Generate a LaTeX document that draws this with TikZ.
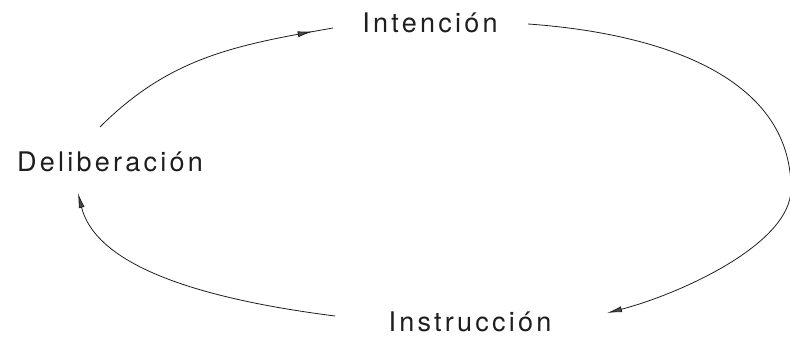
\documentclass[tikz,border=0pt]{standalone}
\usepackage{fontspec}
\setmainfont{TeX Gyre Heros}[LetterSpace=12]
\usetikzlibrary{arrows.meta,calc,decorations.markings}
\definecolor{CycleInk}{HTML}{1E1E1E}
\definecolor{CycleHead}{HTML}{4A4A4A}
\tikzset{
  stage/.style={font=\fontsize{27}{32}\selectfont, text=CycleInk, inner sep=3pt},
  cyclearc/.style={line width=0.8pt, draw=CycleInk},
  endarrow/.style={-{Latex[length=15pt,width=6pt,fill=CycleHead]}},
  midarrow/.style={postaction={decorate}, decoration={markings,
                   mark=at position 0.92 with {\arrow{Latex[length=15pt,width=6pt,fill=CycleHead]}}}},
}
\begin{document}
\begin{tikzpicture}[x=1pt,y=1pt]
  \useasboundingbox (0,0) rectangle (790,339);

  % the three stages
  \node[stage, anchor=base] (intent) at (430,306) {Intención};
  \node[stage, anchor=base] (delib)  at (110,167) {Deliberación};
  \node[stage, anchor=base] (instr)  at (470,7)   {Instrucción};

  \coordinate (rim) at (791,150);

  % Deliberación -> Intención
  \draw[cyclearc, midarrow] ($(delib.base)+(-10,45)$)
        .. controls (170,282) and (236,294) .. ($(intent.base)+(-97,5)$);
  % Intención -> Instrucción
  \draw[cyclearc, endarrow] ($(intent.base)+(98,9)$)
        .. controls (655,306) and (791,265) .. (rim)
        .. controls (791,95) and (680,45) .. ($(instr.base)+(137,19)$);
  % Instrucción -> Deliberación
  \draw[cyclearc, endarrow] ($(instr.base)+(-135,16)$)
        .. controls (225,37) and (98,66) .. ($(delib.base)+(-32,-21)$);
\end{tikzpicture}
\end{document}
